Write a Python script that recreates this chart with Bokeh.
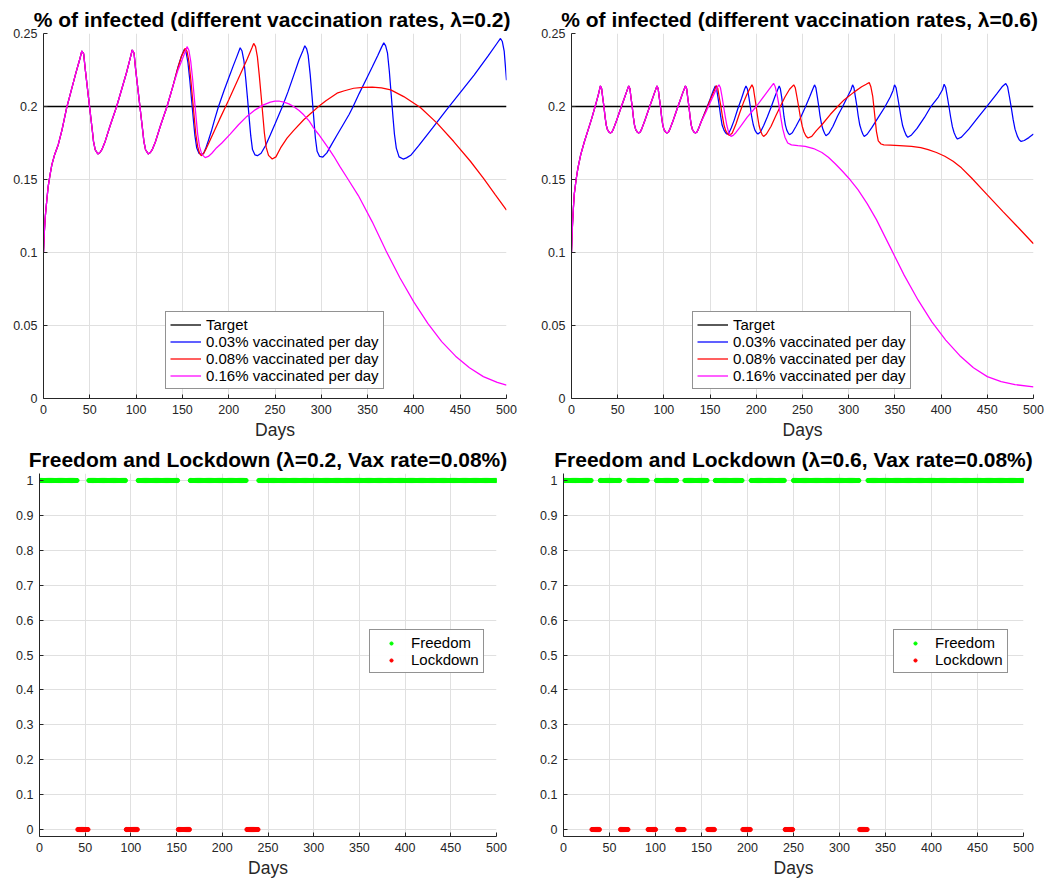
from bokeh.plotting import figure
from bokeh.models import Range1d, FixedTicker, Legend, LegendItem, NumeralTickFormatter
from bokeh.layouts import column, row
from bokeh.embed import file_html
from bokeh.resources import INLINE

# ---------------- data ----------------
X_TICKS = [0, 50, 100, 150, 200, 250, 300, 350, 400, 450, 500]
TOP_Y_TICKS = [0, 0.05, 0.1, 0.15, 0.2, 0.25]
BOT_Y_TICKS = [0, 0.1, 0.2, 0.3, 0.4, 0.5, 0.6, 0.7, 0.8, 0.9, 1]
DAY_SPAN = [0, 500]
TARGET = 0.2
SERIES_LABELS = ["Target", "0.03% vaccinated per day", "0.08% vaccinated per day", "0.16% vaccinated per day"]
STATE_LABELS = ["Freedom", "Lockdown"]

# lambda = 0.2 : part shared by all vaccination rates
TL_COMMON_DAYS = [0, 1, 2, 3, 5, 7, 9, 12, 16, 20, 25, 30, 35, 39, 41.4, 43.4, 45, 47, 49, 51,
                  53, 54, 55.8, 58.7, 61, 63, 66.6, 72, 79, 85, 90, 94, 95.8, 97.8, 99.4, 101.4, 103.4, 105.4, 107.4, 108.4,
                  110.2, 113.1, 115.4, 117.4, 121, 126.4, 133.4, 140]
TL_COMMON_VALS = [0.100, 0.115, 0.125, 0.132, 0.145, 0.153, 0.160, 0.167, 0.174, 0.184, 0.199, 0.211, 0.223, 0.232, 0.238, 0.236, 0.226, 0.215, 0.204, 0.193,
                  0.182, 0.1761, 0.1704, 0.1675, 0.1685, 0.1704, 0.1761, 0.187, 0.200, 0.213, 0.224, 0.234, 0.2387, 0.2365, 0.226, 0.215, 0.204, 0.193, 0.182, 0.1761,
                  0.1704, 0.1675, 0.1685, 0.1704, 0.1761, 0.187, 0.200, 0.2145]
TL_BLUE_DAYS = [145, 149, 152, 154, 156, 158, 160, 162, 163.5, 165.5, 168, 171, 173, 175, 178, 181, 185, 189, 195, 200,
                205, 209, 212.4, 214.4, 216.4, 218.4, 220.4, 222.4, 223.8, 225.7, 228.4, 231, 235, 240, 245, 250, 254, 258, 264, 270,
                276, 280, 282.2, 284.2, 285.8, 288, 290, 292, 293.6, 295.5, 298, 301.7, 306, 311, 317, 324, 330, 334.4, 341, 348,
                355, 361, 365, 367.5, 369.5, 371.5, 373.5, 375.5, 377.5, 379, 381, 384, 388.4, 392, 397, 405, 420, 435, 450, 465,
                480, 490, 493.5, 495.5, 497.5, 500]
TL_BLUE_VALS = [0.2265, 0.2345, 0.239, 0.237, 0.230, 0.218, 0.204, 0.190, 0.180, 0.1715, 0.1678, 0.167, 0.168, 0.171, 0.1765, 0.1825, 0.1915, 0.200, 0.211, 0.2195,
                0.228, 0.2345, 0.2402, 0.238, 0.2315, 0.219, 0.205, 0.190, 0.180, 0.1705, 0.1668, 0.1663, 0.168, 0.1735, 0.1807, 0.188, 0.194, 0.200, 0.210, 0.221,
                0.232, 0.238, 0.2416, 0.2395, 0.2352, 0.222, 0.207, 0.191, 0.1784, 0.1693, 0.1659, 0.1654, 0.1682, 0.1739, 0.1805, 0.188, 0.1945, 0.200, 0.209, 0.218,
                0.227, 0.235, 0.2405, 0.2437, 0.2415, 0.2365, 0.224, 0.208, 0.192, 0.181, 0.1715, 0.1655, 0.164, 0.1648, 0.1668, 0.173, 0.1852, 0.1975, 0.2095, 0.2215,
                0.2345, 0.2435, 0.2466, 0.2445, 0.238, 0.218]
TL_RED_DAYS = [145, 149, 153, 155, 157, 159, 161, 163, 164.5, 166.5, 168.5, 170.3, 173, 176, 180, 190, 200, 210, 220, 225,
               227, 229, 231, 233, 235, 237, 238.5, 240.5, 243, 247, 251, 256, 263, 270, 281, 290, 297, 305, 317, 325,
               335, 345, 355, 365, 375, 389, 407, 425, 443, 461, 475, 488, 500]
TL_RED_VALS = [0.2262, 0.2345, 0.2398, 0.2378, 0.231, 0.219, 0.205, 0.191, 0.181, 0.1725, 0.168, 0.1663, 0.168, 0.1715, 0.177, 0.191, 0.2045, 0.2185, 0.2325, 0.240,
               0.2432, 0.241, 0.234, 0.2215, 0.2075, 0.193, 0.182, 0.172, 0.1665, 0.164, 0.1655, 0.1716, 0.1784, 0.1835, 0.1909, 0.196, 0.200, 0.204, 0.2091, 0.2108,
               0.2125, 0.2131, 0.2132, 0.2127, 0.2114, 0.2068, 0.1993, 0.1886, 0.176, 0.1625, 0.151, 0.1395, 0.129]
TL_MAG_DAYS = [145, 150, 153, 155, 157, 159, 161, 163, 165, 166.5, 168.5, 171, 174.6, 178, 181.8, 187, 192.6, 201.6, 210.6, 219.6,
               228.6, 237.6, 245, 250, 255, 259.6, 265, 270, 276, 281, 287, 292, 297, 302.7, 308, 313.5, 320, 328, 340, 355,
               370, 385, 400, 415, 430, 445, 460, 475, 490, 500]
TL_MAG_VALS = [0.2245, 0.2325, 0.2375, 0.241, 0.2385, 0.231, 0.219, 0.205, 0.191, 0.181, 0.1725, 0.1672, 0.165, 0.1658, 0.168, 0.1718, 0.175, 0.1811, 0.1875, 0.1932,
               0.1977, 0.2011, 0.203, 0.2037, 0.2036, 0.203, 0.2018, 0.200, 0.1973, 0.1943, 0.190, 0.185, 0.181, 0.176, 0.1712, 0.1659, 0.159, 0.151, 0.139, 0.121,
               0.101, 0.0825, 0.066, 0.0515, 0.039, 0.029, 0.021, 0.015, 0.011, 0.0091]

# lambda = 0.6 : part shared by all vaccination rates
TR_COMMON_DAYS = [0, 1, 2, 3, 5, 7, 10, 14, 18, 22, 26, 29, 31.3,
                  32.6, 33.8, 35.1, 36.3, 37.6, 38.9, 40.5, 42.1, 43.8, 45.3, 48.3, 51.3, 54, 56.8, 59.3, 61.9,
                  63.2, 64.4, 65.7, 66.9, 68.2, 69.5, 71.1, 72.7, 74.4, 75.9, 78.9, 81.9, 84.6, 87.4, 89.9, 92.5,
                  93.8, 95, 96.3, 97.5, 98.8, 100.1, 101.7, 103.3, 105, 106.5, 109.5, 112.5, 115.2, 118, 120.5, 123.3,
                  124.6, 125.8, 127.1, 128.3, 129.6, 130.9, 132.5, 134.1, 135.8, 137.3, 140]
TR_COMMON_VALS = [0.100, 0.118, 0.130, 0.140, 0.150, 0.158, 0.167, 0.176, 0.184, 0.192, 0.201, 0.208, 0.2141,
                  0.2122, 0.206, 0.200, 0.193, 0.1873, 0.1841, 0.1826, 0.1818, 0.1825, 0.1845, 0.1895, 0.195, 0.200, 0.205, 0.2095, 0.2141,
                  0.2122, 0.206, 0.200, 0.193, 0.1873, 0.1841, 0.1826, 0.1818, 0.1825, 0.1845, 0.1895, 0.195, 0.200, 0.205, 0.2095, 0.2141,
                  0.2122, 0.206, 0.200, 0.193, 0.1873, 0.1841, 0.1826, 0.1818, 0.1825, 0.1845, 0.1895, 0.195, 0.200, 0.205, 0.2095, 0.2141,
                  0.2122, 0.206, 0.200, 0.193, 0.1873, 0.1841, 0.1826, 0.1818, 0.1825, 0.1845, 0.189]
TR_BLUE_DAYS = [145, 150, 153.5, 155.6, 157, 158.5, 160, 161.5, 163, 165, 167, 168.2, 170.5, 173, 176, 180, 184, 187.3, 188.8, 190.3,
                192, 193.5, 195, 196.8, 198.5, 200.5, 201.8, 204.5, 208, 212, 216, 220, 223.3, 224.8, 226, 227.5, 228.7, 230, 231.5, 233,
                234.8, 236, 239, 243, 248, 253, 258, 261.3, 263, 264.5, 266, 267.5, 269, 270.7, 272.3, 274, 275.4, 278.5, 283, 288,
                293.5, 299, 302.5, 304.2, 305.7, 307.2, 308.8, 310.3, 312, 313.7, 315.4, 316.8, 320, 325, 332, 339, 345, 348, 349.6, 351.3,
                353, 354.7, 356.5, 358.4, 360.3, 362.2, 364, 368, 374, 382, 388.5, 397, 401.5, 403.3, 405, 406.8, 408.5, 410.3, 412.2, 414,
                416, 417.7, 422, 430, 440, 450, 460, 466, 470, 472, 474, 476, 478, 480, 482.5, 484.5, 486.6, 490, 495, 500]
TR_BLUE_VALS = [0.197, 0.205, 0.211, 0.2141, 0.2122, 0.2063, 0.200, 0.193, 0.1873, 0.1838, 0.1818, 0.1811, 0.182, 0.1855, 0.1905, 0.1985, 0.2055, 0.2118, 0.2141, 0.2122,
                0.2063, 0.200, 0.193, 0.1873, 0.1838, 0.1818, 0.1811, 0.1825, 0.187, 0.193, 0.1995, 0.2065, 0.2118, 0.2141, 0.2122, 0.2063, 0.200, 0.193, 0.1873, 0.1838,
                0.1815, 0.1807, 0.182, 0.1865, 0.1925, 0.1995, 0.207, 0.2122, 0.2148, 0.2128, 0.2068, 0.2005, 0.1935, 0.1875, 0.184, 0.1815, 0.180, 0.1815, 0.1865, 0.1935,
                0.200, 0.207, 0.2115, 0.2148, 0.2128, 0.2068, 0.2005, 0.1935, 0.1873, 0.1838, 0.181, 0.1795, 0.181, 0.1855, 0.1925, 0.1995, 0.2065, 0.211, 0.2148, 0.2128,
                0.2065, 0.200, 0.193, 0.1868, 0.1832, 0.1803, 0.1789, 0.1805, 0.185, 0.1925, 0.1995, 0.2065, 0.2115, 0.2152, 0.213, 0.2065, 0.200, 0.1928, 0.1862, 0.1822,
                0.1792, 0.1777, 0.179, 0.1845, 0.1925, 0.2005, 0.2085, 0.2135, 0.2157, 0.2135, 0.2065, 0.199, 0.191, 0.1845, 0.1797, 0.1772, 0.1761, 0.1767, 0.1787, 0.1811]
TR_RED_DAYS = [145, 150, 154.5, 156.7, 158.3, 160, 161.7, 163.4, 165.2, 167, 169, 171, 174, 178, 182, 186, 190, 193.5, 195.3, 196.8,
               198.3, 199.8, 201.3, 203, 204.6, 206.3, 207.9, 211, 216, 221, 226, 231, 236, 240.5, 242.2, 244, 245.8, 247.6, 249.7, 251.6,
               253.7, 255.9, 260, 265, 271, 280, 288, 295, 305, 314, 319, 322.2, 324, 326, 328, 330, 332, 335, 338, 345,
               355, 368, 378, 386, 395, 404, 413, 422, 433, 450, 467, 484, 500]
TR_RED_VALS = [0.1965, 0.2045, 0.2108, 0.2143, 0.2125, 0.206, 0.200, 0.193, 0.1868, 0.1833, 0.1812, 0.1802, 0.1818, 0.188, 0.1955, 0.2025, 0.2085, 0.2128, 0.2148, 0.2128,
               0.2065, 0.2003, 0.1935, 0.187, 0.1833, 0.1808, 0.1795, 0.1812, 0.1865, 0.1935, 0.200, 0.2065, 0.2118, 0.2148, 0.2128, 0.2065, 0.200, 0.193, 0.1865, 0.1825,
               0.1798, 0.1784, 0.1795, 0.1835, 0.1875, 0.1945, 0.200, 0.2045, 0.2095, 0.2135, 0.2152, 0.2164, 0.2135, 0.207, 0.195, 0.183, 0.1765, 0.1743, 0.1737, 0.1735,
               0.1732, 0.1727, 0.1718, 0.1704, 0.1685, 0.1659, 0.1625, 0.158, 0.151, 0.1395, 0.128, 0.1168, 0.106]
TR_MAG_DAYS = [145, 150, 155, 158, 159.6, 161.2, 163, 164.6, 166.4, 168.2, 170, 171.5, 172.6, 175, 178, 182, 190, 200, 210, 215,
               218.7, 220.5, 222.5, 224.5, 226.5, 228.5, 231, 234, 238, 245, 253, 262, 271, 278, 285.4, 293, 301.6, 310, 320, 330,
               345, 360, 375, 390, 405, 420, 435, 450, 465, 480, 500]
TR_MAG_VALS = [0.1955, 0.2025, 0.2095, 0.2135, 0.2148, 0.2128, 0.2065, 0.200, 0.193, 0.1868, 0.1825, 0.1805, 0.1795, 0.1802, 0.1822, 0.1855, 0.1925, 0.200, 0.2085, 0.2128,
               0.2159, 0.2135, 0.208, 0.201, 0.1925, 0.185, 0.179, 0.175, 0.1737, 0.1732, 0.1727, 0.1712, 0.1685, 0.1652, 0.1608, 0.1558, 0.1498, 0.143, 0.1335, 0.1225,
               0.1035, 0.0845, 0.0675, 0.0525, 0.040, 0.0295, 0.021, 0.015, 0.0115, 0.0095, 0.008]

# lockdown periods (first and last day, inclusive), vaccination rate 0.08%
BL_LOCK_START = [42, 95, 152, 227]
BL_LOCK_END = [53, 107, 164, 239]
BR_LOCK_START = [31, 62, 92, 124, 157, 195, 241, 322]
BR_LOCK_END = [39, 70, 100, 131, 164, 203, 249, 330]
FREEDOM_LEVEL = 1
LOCKDOWN_LEVEL = 0

# ---------------- style ----------------
FONT = "Liberation Sans"
AXC = "#262626"
GRIDC = "#e0e0e0"
COLORS = ["#000000", "#0000ff", "#ff0000", "#ff00ff"]
GREEN = "#00ff00"
RED = "#ff0000"


def make_fig(width, height, bl, br, bt, bb, title, yr, yticks, yfmt):
    p = figure(width=width, height=height, x_range=Range1d(0, 500), y_range=Range1d(*yr),
               output_backend="svg", toolbar_location=None, title=title,
               min_border_left=bl, min_border_right=br, min_border_top=bt, min_border_bottom=bb)
    p.title.text_font = FONT
    p.title.text_font_size = "21px"
    p.title.text_font_style = "bold"
    p.title.text_color = "#000000"
    p.title.align = "center"
    p.title.standoff = 6
    p.xaxis.ticker = FixedTicker(ticks=X_TICKS)
    p.yaxis.ticker = FixedTicker(ticks=yticks)
    p.yaxis.formatter = NumeralTickFormatter(format=yfmt)
    for ax in (p.xaxis[0], p.yaxis[0]):
        ax.axis_line_color = AXC
        ax.axis_line_width = 1
        ax.major_tick_line_color = AXC
        ax.major_tick_in = 4
        ax.major_tick_out = 0
        ax.minor_tick_line_color = None
        ax.major_label_text_font = FONT
        ax.major_label_text_font_size = "12.5px"
        ax.major_label_text_color = AXC
        ax.major_label_standoff = 6
    p.xaxis.axis_label = "Days"
    p.xaxis.axis_label_text_font = FONT
    p.xaxis.axis_label_text_font_size = "17.5px"
    p.xaxis.axis_label_text_font_style = "normal"
    p.xaxis.axis_label_text_color = AXC
    p.xaxis.axis_label_standoff = 3
    p.xgrid.grid_line_color = GRIDC
    p.ygrid.grid_line_color = GRIDC
    p.outline_line_color = None
    p.background_fill_color = "white"
    p.border_fill_color = "white"
    return p


def top_chart(width, bl, br, title, common_d, common_v, series, lx):
    p = make_fig(width, 442, bl, br, 33, 43, title, (0, 0.25), TOP_Y_TICKS, "0.[00]")
    rs = [p.line(DAY_SPAN, [TARGET, TARGET], color=COLORS[0], line_width=1.3)]
    for (d, v), c in zip(series, COLORS[1:]):
        rs.append(p.line(common_d + d, common_v + v, color=c, line_width=1.25))
    leg = Legend(items=[LegendItem(label=l, renderers=[r]) for l, r in zip(SERIES_LABELS, rs)],
                 location=(lx, 9))
    leg.label_text_font = FONT
    leg.label_text_font_size = "15px"
    leg.label_text_color = "#000000"
    leg.glyph_width = 31
    leg.glyph_height = 17
    leg.label_height = 17
    leg.label_standoff = 5
    leg.spacing = 0
    leg.padding = 4
    leg.margin = 0
    leg.border_line_color = AXC
    leg.border_line_width = 1
    leg.background_fill_alpha = 1
    p.add_layout(leg)
    return p


def bottom_chart(width, bl, br, title, lock_start, lock_end):
    p = make_fig(width, 440, bl, br, 29, 46, title, (-0.02, 1.02), BOT_Y_TICKS, "0.[0]")
    days = list(range(0, 501))
    locked = set()
    for s, e in zip(lock_start, lock_end):
        locked.update(range(s, e + 1))
    free_d = [d for d in days if d not in locked]
    lock_d = [d for d in days if d in locked]
    r1 = p.scatter(free_d, [FREEDOM_LEVEL] * len(free_d), size=4.2, color=GREEN, line_color=GREEN)
    r2 = p.scatter(lock_d, [LOCKDOWN_LEVEL] * len(lock_d), size=4.2, color=RED, line_color=RED)
    leg = Legend(items=[LegendItem(label=STATE_LABELS[0], renderers=[r1]),
                        LegendItem(label=STATE_LABELS[1], renderers=[r2])],
                 location=(330, 163))
    leg.label_text_font = FONT
    leg.label_text_font_size = "15px"
    leg.label_text_color = "#000000"
    leg.glyph_width = 34
    leg.glyph_height = 8
    leg.label_height = 16
    leg.label_standoff = 3
    leg.spacing = 0
    leg.padding = 4
    leg.margin = 0
    leg.border_line_color = AXC
    leg.border_line_width = 1
    p.add_layout(leg)
    return p


p_tl = top_chart(528, 43, 22, "% of infected (different vaccination rates,  λ=0.2)",
                 TL_COMMON_DAYS, TL_COMMON_VALS,
                 [(TL_BLUE_DAYS, TL_BLUE_VALS), (TL_RED_DAYS, TL_RED_VALS), (TL_MAG_DAYS, TL_MAG_VALS)], 122)
p_tr = top_chart(519, 43, 14, "% of infected (different vaccination rates,  λ=0.6)",
                 TR_COMMON_DAYS, TR_COMMON_VALS,
                 [(TR_BLUE_DAYS, TR_BLUE_VALS), (TR_RED_DAYS, TR_RED_VALS), (TR_MAG_DAYS, TR_MAG_VALS)], 121)
p_bl = bottom_chart(516, 39, 20, "Freedom and Lockdown (λ=0.2, Vax rate=0.08%)", BL_LOCK_START, BL_LOCK_END)
p_br = bottom_chart(527, 47, 20, "Freedom and Lockdown (λ=0.6, Vax rate=0.08%)", BR_LOCK_START, BR_LOCK_END)

layout = column(row(p_tl, p_tr), row(p_bl, p_br))
open("out.html", "w").write(file_html(layout, INLINE))
